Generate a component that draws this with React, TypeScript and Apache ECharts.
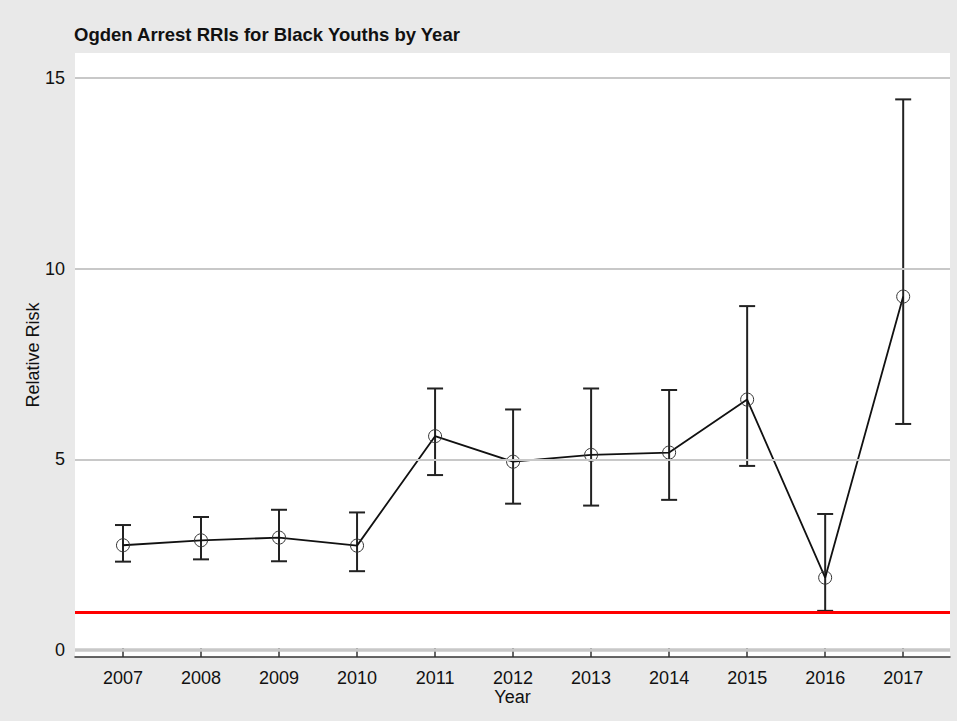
import React, { useEffect, useRef } from "react";
import * as echarts from "echarts";

const years = [2007, 2008, 2009, 2010, 2011, 2012, 2013, 2014, 2015, 2016, 2017];
const rri = [2.75, 2.88, 2.95, 2.74, 5.61, 4.94, 5.12, 5.18, 6.57, 1.9, 9.27];
const lower = [2.32, 2.38, 2.33, 2.07, 4.59, 3.84, 3.79, 3.94, 4.83, 1.03, 5.93];
const upper = [3.28, 3.49, 3.68, 3.61, 6.86, 6.31, 6.86, 6.82, 9.02, 3.57, 14.44];
const yTicks = [0, 5, 10, 15];
const referenceLine = 1;
const titleText = "Ogden Arrest RRIs for Black Youths by Year";

const FONT = "'Liberation Sans', Arial, sans-serif";

export default function App() {
  const ref = useRef<HTMLDivElement>(null);
  useEffect(() => {
    if (!ref.current) return;
    const chart = echarts.init(ref.current, null, { renderer: "svg" });
    const lineData = years.map((y, i) => [y, rri[i]]);
    const errData = years.map((y, i) => [y, lower[i], upper[i]]);
    chart.setOption({
      animation: false,
      backgroundColor: "#e9e9e9",
      textStyle: { fontFamily: FONT },
      title: {
        text: titleText,
        left: 69,
        top: 20,
        textStyle: { fontSize: 18.5, fontWeight: "bold", color: "#111", fontFamily: FONT },
      },
      grid: { left: 75, right: 7, top: 53, bottom: 64, backgroundColor: "#ffffff", show: true, borderWidth: 0 },
      xAxis: {
        type: "value",
        min: 2006.385,
        max: 2017.6,
        name: "Year",
        nameLocation: "middle",
        nameGap: 31,
        nameMoveOverlap: false,
        nameTextStyle: { fontSize: 18, color: "#111", fontFamily: FONT },
        axisLine: { show: true, onZero: false, lineStyle: { color: "#333", width: 1.5 } },
        axisTick: { show: true, inside: true, length: 9, customValues: years, lineStyle: { color: "#333", width: 1.5 } },
        axisLabel: { customValues: years, fontSize: 18, color: "#111", margin: 12, fontFamily: FONT, formatter: (v: number) => String(v) },
        splitLine: { show: false },
      },
      yAxis: {
        type: "value",
        min: -0.18,
        max: 15.656,
        name: "Relative Risk",
        nameLocation: "middle",
        nameGap: 33,
        nameMoveOverlap: false,
        nameTextStyle: { fontSize: 18, color: "#111", fontFamily: FONT },
        axisLine: { show: false },
        axisTick: { show: false },
        axisLabel: { customValues: yTicks, fontSize: 18, color: "#111", margin: 10, fontFamily: FONT },
        splitLine: { show: false },
      },
      series: [
        {
          type: "line",
          data: [],
          silent: true,
          z: 1,
          markLine: {
            silent: true,
            symbol: "none",
            label: { show: false },
            data: yTicks.map((t) => ({
              yAxis: t,
              lineStyle: { color: "#c8c8c8", width: t === 0 ? 3.5 : 2, type: "solid" },
            })),
          },
        },
        {
          type: "custom",
          z: 3,
          silent: true,
          data: errData,
          renderItem: (params: any, api: any) => {
            const x = api.value(0);
            const lo = api.coord([x, api.value(1)]);
            const hi = api.coord([x, api.value(2)]);
            const cap = 8;
            const style = { stroke: "#222", lineWidth: 2 };
            return {
              type: "group",
              children: [
                { type: "line", shape: { x1: lo[0], y1: lo[1], x2: hi[0], y2: hi[1] }, style },
                { type: "line", shape: { x1: hi[0] - cap, y1: hi[1], x2: hi[0] + cap, y2: hi[1] }, style },
                { type: "line", shape: { x1: lo[0] - cap, y1: lo[1], x2: lo[0] + cap, y2: lo[1] }, style },
              ],
            };
          },
        },
        {
          type: "line",
          z: 4,
          data: lineData,
          silent: true,
          lineStyle: { color: "#111", width: 1.8 },
          symbol: "circle",
          symbolSize: 13,
          itemStyle: { color: "rgba(0,0,0,0)", borderColor: "#333", borderWidth: 1 },
        },
        {
          type: "line",
          data: [],
          silent: true,
          z: 6,
          markLine: {
            silent: true,
            symbol: "none",
            label: { show: false },
            data: [{ yAxis: referenceLine, lineStyle: { color: "#ff0000", width: 3, type: "solid" } }],
          },
        },
      ],
    });
    return () => chart.dispose();
  }, []);
  return <div ref={ref} style={{ position: "absolute", left: 0, top: 0, width: 957, height: 721 }} />;
}
